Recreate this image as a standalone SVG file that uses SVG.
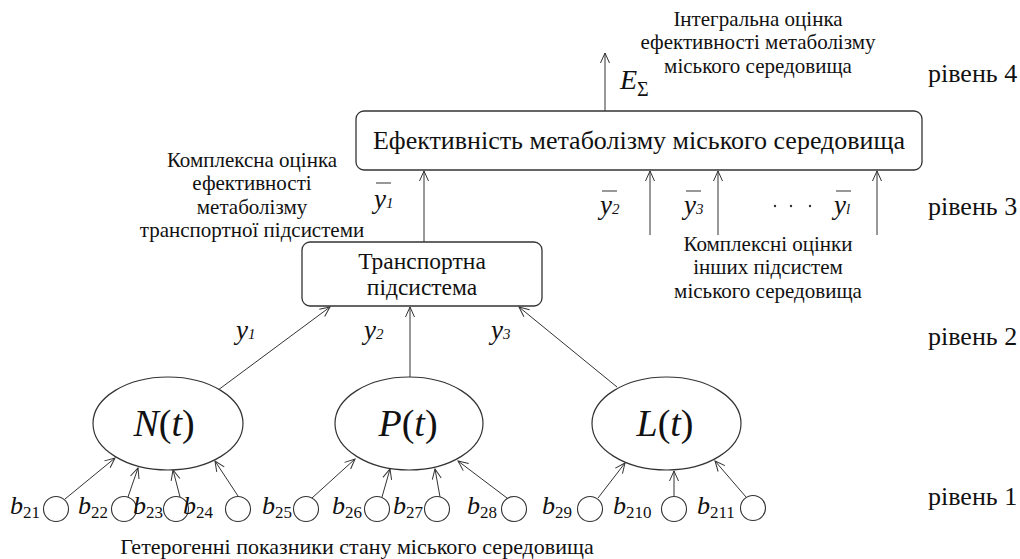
<svg xmlns="http://www.w3.org/2000/svg" width="1020" height="559" viewBox="0 0 1020 559">
<defs>
<marker id="arr" markerWidth="12" markerHeight="12" refX="0" refY="0" viewBox="-11 -6 12 12" orient="auto" markerUnits="userSpaceOnUse">
<path d="M-10,-4.5 L0,0 L-10,4.5" fill="none" stroke="#333" stroke-width="1"/>
</marker>
</defs>
<style>
text{font-family:"Liberation Serif","Tinos","Times New Roman","DejaVu Serif","Noto Serif",serif;fill:#111}
.m{font-style:italic}
.u{font-style:normal}
.box{fill:#fff;stroke:#333;stroke-width:1.3}
.ell{fill:#fff;stroke:#333;stroke-width:1.2}
.c{fill:#fff;stroke:#333;stroke-width:1.1}
.ln{stroke:#333;stroke-width:1;fill:none}
.a{stroke:#333;stroke-width:1;fill:none;marker-end:url(#arr)}
</style>
<rect width="1020" height="559" fill="#fff"/>

<g id="connectors">
<line class="a" x1="605" y1="111" x2="605" y2="53"/>
<line class="a" x1="424" y1="242" x2="424" y2="171"/>
<line class="a" x1="650" y1="235" x2="650" y2="171"/>
<line class="a" x1="718" y1="235" x2="718" y2="171"/>
<line class="a" x1="877" y1="235" x2="877" y2="171"/>
<line class="a" x1="210" y1="396" x2="330" y2="307"/>
<line class="a" x1="410" y1="377" x2="410" y2="307"/>
<line class="a" x1="617" y1="387" x2="519" y2="307"/>
<line class="a" x1="65" y1="499" x2="115" y2="458"/>
<line class="a" x1="128" y1="497" x2="138" y2="468"/>
<line class="a" x1="180" y1="497" x2="173" y2="470"/>
<line class="a" x1="238" y1="496" x2="215" y2="461"/>
<line class="a" x1="312" y1="498" x2="355" y2="459"/>
<line class="a" x1="382" y1="497" x2="390" y2="469"/>
<line class="a" x1="440" y1="497" x2="435" y2="469"/>
<line class="a" x1="507" y1="498" x2="458" y2="461"/>
<line class="a" x1="598" y1="498" x2="625" y2="463"/>
<line class="a" x1="674" y1="496" x2="674" y2="471"/>
<line class="a" x1="746" y1="497" x2="715" y2="461"/>
</g>

<g id="node-top">
<rect class="box" x="356" y="111" width="566" height="59" rx="8"/>
<text x="639" y="149" font-size="26" text-anchor="middle">Ефективність метаболізму міського середовища</text>
</g>

<g id="node-transport">
<rect class="box" x="302" y="242" width="240" height="64" rx="8"/>
<text x="422" y="269" font-size="23.5" text-anchor="middle">Транспортна</text>
<text x="422" y="295" font-size="23.5" text-anchor="middle">підсистема</text>
</g>

<g id="node-N">
<ellipse class="ell" cx="168" cy="423.5" rx="75" ry="46.5"/>
<text class="m" x="164" y="436" font-size="38" text-anchor="middle">N<tspan class="u">(</tspan>t<tspan class="u">)</tspan></text>
</g>
<g id="node-P">
<ellipse class="ell" cx="409" cy="423.5" rx="74" ry="46.5"/>
<text class="m" x="408" y="436" font-size="38" text-anchor="middle">P<tspan class="u">(</tspan>t<tspan class="u">)</tspan></text>
</g>
<g id="node-L">
<ellipse class="ell" cx="666.5" cy="423.5" rx="74.5" ry="46.5"/>
<text class="m" x="665" y="436" font-size="38" text-anchor="middle">L<tspan class="u">(</tspan>t<tspan class="u">)</tspan></text>
</g>

<g id="circles">
<circle class="c" cx="56" cy="509" r="12.5"/>
<circle class="c" cx="124" cy="509" r="12.5"/>
<circle class="c" cx="176" cy="509" r="12.5"/>
<circle class="c" cx="238" cy="509" r="12.5"/>
<circle class="c" cx="306" cy="509" r="12.5"/>
<circle class="c" cx="377" cy="509" r="12.5"/>
<circle class="c" cx="437" cy="509" r="12.5"/>
<circle class="c" cx="514" cy="509" r="12.5"/>
<circle class="c" cx="590" cy="509" r="12.5"/>
<circle class="c" cx="674" cy="509" r="12.5"/>
<circle class="c" cx="753" cy="508" r="12.5"/>
</g>

<g id="b-labels">
<text class="m" x="10" y="514" font-size="26">b<tspan class="u" font-size="17" dy="4">21</tspan></text>
<text class="m" x="78" y="514" font-size="26">b<tspan class="u" font-size="17" dy="4">22</tspan></text>
<text class="m" x="133" y="514" font-size="26">b<tspan class="u" font-size="17" dy="4">23</tspan></text>
<text class="m" x="183" y="514" font-size="26">b<tspan class="u" font-size="17" dy="4">24</tspan></text>
<text class="m" x="262" y="514" font-size="26">b<tspan class="u" font-size="17" dy="4">25</tspan></text>
<text class="m" x="332" y="514" font-size="26">b<tspan class="u" font-size="17" dy="4">26</tspan></text>
<text class="m" x="393" y="514" font-size="26">b<tspan class="u" font-size="17" dy="4">27</tspan></text>
<text class="m" x="467" y="514" font-size="26">b<tspan class="u" font-size="17" dy="4">28</tspan></text>
<text class="m" x="542" y="514" font-size="26">b<tspan class="u" font-size="17" dy="4">29</tspan></text>
<text class="m" x="613" y="514" font-size="26">b<tspan class="u" font-size="17" dy="4">210</tspan></text>
<text class="m" x="697" y="514" font-size="26">b<tspan class="u" font-size="17" dy="4">211</tspan></text>
</g>

<g id="y-labels">
<text class="m" x="236" y="339" font-size="27">y<tspan font-size="15">1</tspan></text>
<text class="m" x="364" y="339" font-size="27">y<tspan font-size="15">2</tspan></text>
<text class="m" x="491" y="339" font-size="27">y<tspan font-size="15">3</tspan></text>
<line class="ln" x1="376" y1="183" x2="391" y2="183"/>
<text class="m" x="374" y="208" font-size="27">y<tspan font-size="15">1</tspan></text>
<line class="ln" x1="602" y1="191" x2="617" y2="191"/>
<text class="m" x="600" y="214" font-size="27">y<tspan font-size="15">2</tspan></text>
<line class="ln" x1="686" y1="191" x2="701" y2="191"/>
<text class="m" x="684" y="214" font-size="27">y<tspan font-size="15">3</tspan></text>
<circle cx="775" cy="206" r="1.2" fill="#333"/>
<circle cx="791" cy="206" r="1.2" fill="#333"/>
<circle cx="810" cy="206" r="1.2" fill="#333"/>
<line class="ln" x1="836" y1="191" x2="851" y2="191"/>
<text class="m" x="834" y="214" font-size="27">y<tspan font-size="15">l</tspan></text>
<text class="m" x="620" y="89" font-size="28">E<tspan class="u" font-size="20" dy="7">Σ</tspan></text>
</g>

<g id="annotations">
<text font-size="21" text-anchor="middle"><tspan x="758" y="26">Інтегральна оцінка</tspan><tspan x="758" y="49.3">ефективності метаболізму</tspan><tspan x="758" y="72.6">міського середовища</tspan></text>
<text font-size="21" text-anchor="middle"><tspan x="252" y="167">Комплексна оцінка</tspan><tspan x="252" y="190.3">ефективності</tspan><tspan x="252" y="213.6">метаболізму</tspan><tspan x="252" y="237">транспортної підсистеми</tspan></text>
<text font-size="21" text-anchor="middle"><tspan x="768" y="251">Комплексні оцінки</tspan><tspan x="768" y="274.3">інших підсистем</tspan><tspan x="768" y="297.6">міського середовища</tspan></text>
<text x="357" y="554" font-size="22" text-anchor="middle">Гетерогенні показники стану міського середовища</text>
</g>

<g id="levels">
<text x="928" y="82" font-size="26">рівень 4</text>
<text x="928" y="215" font-size="26">рівень 3</text>
<text x="928" y="345" font-size="26">рівень 2</text>
<text x="928" y="505" font-size="26">рівень 1</text>
</g>
</svg>
